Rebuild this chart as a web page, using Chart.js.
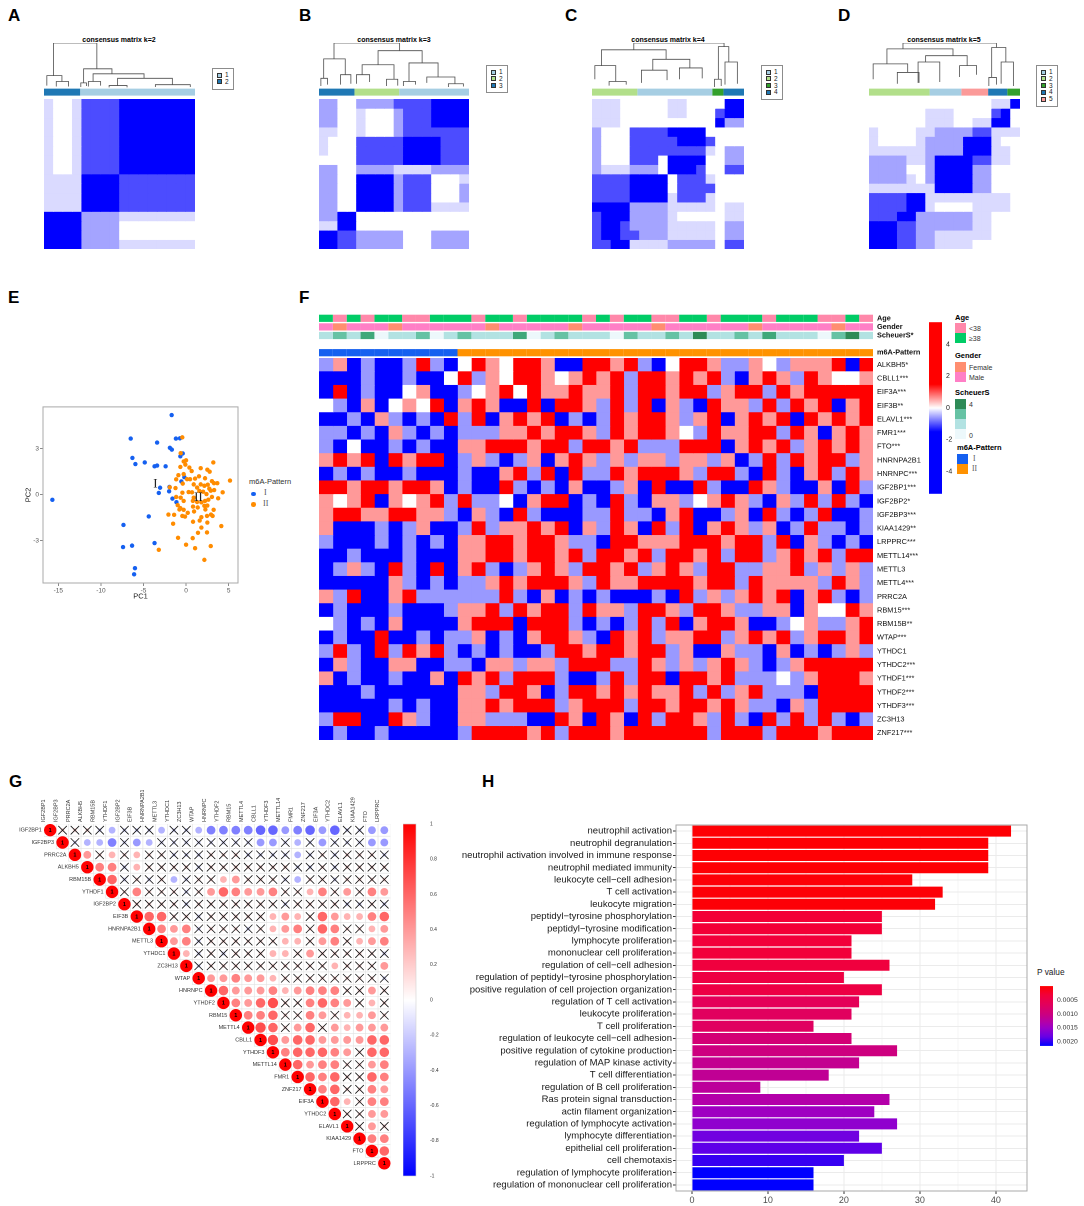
<!DOCTYPE html>
<html lang="en">
<head>
<meta charset="UTF-8">
<title>m6A pattern figure</title>
<script src="https://cdn.jsdelivr.net/npm/chart.js@4.4.1/dist/chart.umd.min.js"></script>
<style>
    body { margin: 0; background: #fff; }
    #page {
        position: relative;
        width: 1084px;
        height: 1206px;
        overflow: hidden;
        background: #fff;
        font-family: "Liberation Sans", Arial, sans-serif;
        color: #000;
    }
    .t { position: absolute; white-space: nowrap; line-height: 1; }
    .panel { font-weight: bold; font-size: 17px; }
    .ctitle { font-weight: bold; font-size: 7px; transform: translateX(-50%); }
    .box { position: absolute; border: 1px solid #8c8c8c; background: #fff; }
    .sw { position: absolute; box-sizing: border-box; }
    .serif { font-family: "Liberation Serif", "DejaVu Serif", serif; }
</style>
</head>
<body>
<div id="page">
    <!-- panel letters -->
    <div class="t panel" style="left:8px;top:7px">A</div>
    <div class="t panel" style="left:299px;top:7px">B</div>
    <div class="t panel" style="left:565px;top:7px">C</div>
    <div class="t panel" style="left:838px;top:7px">D</div>
    <div class="t panel" style="left:8px;top:289px">E</div>
    <div class="t panel" style="left:299px;top:289px">F</div>
    <div class="t panel" style="left:9px;top:773px">G</div>
    <div class="t panel" style="left:482px;top:773px">H</div>

    <!-- consensus titles -->
    <div class="t ctitle" style="left:119px;top:36px">consensus matrix k=2</div>
    <div class="t ctitle" style="left:394px;top:36px">consensus matrix k=3</div>
    <div class="t ctitle" style="left:668px;top:36px">consensus matrix k=4</div>
    <div class="t ctitle" style="left:944px;top:36px">consensus matrix k=5</div>

    <!-- E legend -->
    <div class="t" style="left:249px;top:478px;font-size:7.5px;color:#333">m6A-Pattern</div>
    <div class="sw" style="left:251px;top:491.5px;width:4.5px;height:4.5px;border-radius:50%;background:#1560F0"></div>
    <div class="t serif" style="left:264px;top:489px;font-size:8px;color:#555">I</div>
    <div class="sw" style="left:251px;top:502px;width:4.5px;height:4.5px;border-radius:50%;background:#FF8C00"></div>
    <div class="t serif" style="left:263px;top:499.5px;font-size:8px;color:#555">II</div>

    <!-- F legend -->
    <div class="t" style="left:955px;top:314px;font-size:7.5px;font-weight:bold">Age</div>
    <div class="sw" style="left:955px;top:323px;width:11px;height:10px;background:#FF88AA"></div>
    <div class="sw" style="left:955px;top:333px;width:11px;height:10px;background:#00CC66"></div>
    <div class="t" style="left:969px;top:325px;font-size:7px;color:#333">&lt;38</div>
    <div class="t" style="left:969px;top:335px;font-size:7px;color:#333">≥38</div>
    <div class="t" style="left:955px;top:352px;font-size:7.5px;font-weight:bold">Gender</div>
    <div class="sw" style="left:955px;top:361.5px;width:11px;height:10px;background:#FF8E70"></div>
    <div class="sw" style="left:955px;top:371.5px;width:11px;height:10px;background:#FF7FC6"></div>
    <div class="t" style="left:969px;top:363.5px;font-size:7px;color:#333">Female</div>
    <div class="t" style="left:969px;top:373.5px;font-size:7px;color:#333">Male</div>
    <div class="t" style="left:955px;top:389px;font-size:7.5px;font-weight:bold">ScheuerS</div>
    <div class="sw" style="left:955px;top:398.5px;width:11px;height:10px;background:#2E8B57"></div>
    <div class="sw" style="left:955px;top:408.5px;width:11px;height:10px;background:#66C2A4"></div>
    <div class="sw" style="left:955px;top:418.5px;width:11px;height:10px;background:#B2E2E2"></div>
    <div class="sw" style="left:955px;top:428.5px;width:11px;height:10px;background:#EDF8FB"></div>
    <div class="t" style="left:969px;top:400.5px;font-size:7px;color:#333">4</div>
    <div class="t" style="left:969px;top:431.5px;font-size:7px;color:#333">0</div>
    <div class="t" style="left:957px;top:444px;font-size:7.5px;font-weight:bold">m6A-Pattern</div>
    <div class="sw" style="left:957px;top:453.5px;width:11px;height:10px;background:#1560F0"></div>
    <div class="sw" style="left:957px;top:463.5px;width:11px;height:10px;background:#FF9200"></div>
    <div class="t serif" style="left:973px;top:455px;font-size:7.5px;color:#555">I</div>
    <div class="t serif" style="left:972px;top:465px;font-size:7.5px;color:#555">II</div>

    <!-- H legend title -->
    <div class="t" style="left:1037px;top:968px;font-size:8.3px;color:#1a1a1a">P value</div>
</div>

<script>
// ---------------- data ----------------

// consensus matrices, 16 x 16 blocks, 0 = white ... 4 = solid blue
const consA = [
    '1001333344444444', '1001333344444444', '1001333344444444', '1001333344444444',
    '1001333344444444', '1001333344444444', '1001333344444444', '1001333344444444',
    '1111444433333333', '1111444433333333', '1111444433333333', '1111444433333333',
    '4444222211111111', '4444222200000000', '4444222200000000', '4444222211111111'
];
const consB = [
    '2200222233334444', '2200100023334444', '2200100023334444', '1100100023333333',
    '1000333334444333', '1000333334444333', '0000333334444333', '2200222211112222',
    '2200444423330001', '2200444423330002', '2200444423330002', '2200444423331111',
    '2244000000000000', '1144000000000000', '4433222220002222', '4433222220002222'
];
const consC = [
    '1110000011000044', '1110000011000344', '1110000000000422', '2000333344440000',
    '2000333334443000', '2000333333331022', '2000333044440022', '2111222044430033',
    '3333444403331000', '3333444403333000', '3333444413331000', '4444222211111011',
    '3444222210000011', '3443222211111022', '3443322211111022', '3344111122222033'
];
const consD = [
    '0000000000000114', '0000001110000340', '0000001110011440', '1000011222233111',
    '1000012222444100', '1111112222444110', '2222112444433110', '2222002444422000',
    '2222102444422000', '1111111444422000', '3333441111111110', '3333441000011110',
    '3334422222211000', '4443322222211000', '4443322111111000', '4443322111100000'
];
// cluster spans along the 16 columns: [from, to, cluster]
const groupsA = [[0, 3.83, 2], [3.83, 16, 1]];
const groupsB = [[0, 3.78, 3], [3.78, 8.55, 2], [8.55, 16, 1]];
const groupsC = [[0, 4.77, 2], [4.77, 12.66, 1], [12.66, 13.83, 3], [13.83, 16, 4]];
const groupsD = [[0, 6.42, 2], [6.42, 9.78, 1], [9.78, 12.62, 5], [12.62, 14.65, 4], [14.65, 16, 3]];
// dendrogram merges: [xLeft, xRight, height, heightLeftChild, heightRightChild]
const dendroA = [
    [1.0, 5.6, 1.0, 0.28, 0.43], [0.3, 1.9, 0.28, 0.06, 0.15], [1.3, 2.6, 0.15, 0.04, 0.04],
    [4.2, 7.2, 0.43, 0.12, 0.32], [3.9, 4.5, 0.12, 0.03, 0.05], [5.2, 10.6, 0.32, 0.15, 0.22],
    [4.7, 6.0, 0.15, 0.04, 0.06], [7.8, 13.6, 0.22, 0.06, 0.08], [11.8, 15.5, 0.08, 0.03, 0.03],
    [6.9, 8.8, 0.06, 0.02, 0.02]
];
const dendroB = [
    [1.6, 8.6, 1.0, 0.65, 0.83], [0.5, 2.8, 0.65, 0.22, 0.3], [0.2, 0.9, 0.22, 0.05, 0.08],
    [2.3, 3.4, 0.3, 0.08, 0.1], [6.3, 11.0, 0.83, 0.52, 0.56], [4.6, 8.0, 0.52, 0.3, 0.2],
    [4.0, 5.4, 0.3, 0.1, 0.14], [7.2, 8.4, 0.2, 0.05, 0.06], [9.6, 12.7, 0.56, 0.15, 0.25],
    [9.0, 10.3, 0.15, 0.05, 0.08], [11.5, 14.5, 0.25, 0.12, 0.1], [13.8, 15.4, 0.1, 0.03, 0.04]
];
const dendroC = [
    [4.4, 13.9, 1.0, 0.85, 0.92], [1.0, 7.8, 0.85, 0.5, 0.64], [0.3, 2.5, 0.5, 0.2, 0.15],
    [1.8, 3.6, 0.15, 0.06, 0.08], [6.4, 10.3, 0.64, 0.4, 0.45], [5.2, 7.9, 0.4, 0.12, 0.18],
    [9.2, 11.6, 0.45, 0.2, 0.22], [13.3, 14.4, 0.92, 0.2, 0.58], [14.0, 15.3, 0.58, 0.08, 0.1],
    [12.9, 13.6, 0.2, 0.03, 0.05]
];
const dendroD = [
    [3.6, 13.5, 1.0, 0.87, 0.9], [1.9, 8.9, 0.87, 0.54, 0.72], [0.44, 4.1, 0.54, 0.2, 0.35],
    [3.0, 5.3, 0.35, 0.1, 0.12], [6.0, 10.4, 0.72, 0.58, 0.5], [5.2, 7.5, 0.58, 0.12, 0.14],
    [9.6, 11.4, 0.5, 0.25, 0.3], [13.0, 14.5, 0.9, 0.24, 0.58], [12.7, 13.5, 0.24, 0.05, 0.08],
    [14.0, 15.3, 0.58, 0.1, 0.05]
];

// PCA scores (PC1, PC2)
const pcI = [
    [-1.69, 5.2], [-6.5, 3.66], [-3.4, 3.4], [-1.19, 3.66], [-0.72, 3.68], [-1.9, 3.06], [-1.67, 2.94],
    [-0.39, 2.69], [-0.67, 2.5], [-6.3, 2.4], [-5.95, 2.0], [-4.85, 2.1], [-3.7, 1.85], [-3.4, 1.9],
    [-2.4, 1.85], [-0.2, 1.14], [-0.55, 0.86], [-3.05, 0.45], [-1.95, 0.5], [-1.99, 0.22], [-3.2, 0.11],
    [-1.6, -0.26], [-1.13, -0.49], [-15.7, -0.34], [-4.38, -1.42], [-7.35, -1.98], [-3.7, -3.16],
    [-7.4, -3.42], [-6.34, -3.33], [-6.0, -4.8], [-6.1, -5.2]
];
const pcII = [
    [-0.44, 3.74], [-0.63, 2.71], [-0.28, 2.17], [0, 2.24], [-0.08, 1.96], [0.39, 1.77], [-0.67, 1.81],
    [0.66, 1.54], [1.72, 1.73], [2.5, 1.63], [2.77, 1.5], [3.2, 2.1], [-0.28, 1.34], [-0.9, 1.27],
    [0.12, 1.01], [0.47, 1.01], [1.06, 1.05], [1.52, 1.2], [2.23, 1.07], [3.04, 0.88], [3.67, 0.75],
    [3.28, 0.75], [5.16, 0.92], [-1.16, 1.0], [-0.39, 0.72], [-1.91, 0.48], [-1.24, 0.43], [0.9, 0.67],
    [1.3, 0.46], [1.72, 0.67], [2.15, 0.58], [2.55, 0.65], [2.73, 0.39], [2.9, 0.26], [3.3, 0.3],
    [4.3, 0.15], [-0.43, 0.13], [0.3, 0.17], [0.7, 0.15], [1.56, 0.24], [2.0, 0.19], [2.4, 0.04],
    [3.04, -0.15], [3.77, -0.24], [-1.16, -0.15], [-0.63, -0.2], [-0.28, -0.41], [0.8, -0.41],
    [1.3, -0.48], [1.8, -0.5], [2.23, -0.41], [2.62, -0.33], [-0.98, -0.69], [-0.67, -0.88],
    [-0.78, -0.97], [-0.28, -0.99], [0.82, -0.78], [1.37, -0.84], [2.15, -0.73], [2.5, -0.71],
    [2.27, -0.97], [3.24, -0.99], [0.2, -1.19], [0.94, -1.1], [2.93, -1.3], [3.12, -1.39],
    [-2.07, -1.3], [-1.4, -1.32], [-0.44, -1.39], [-0.12, -1.43], [1.8, -1.47], [2.46, -1.39],
    [-1.52, -1.9], [0.82, -1.77], [1.6, -1.69], [2.5, -1.82], [4.14, -2.05], [1.8, -2.15],
    [2.46, -2.47], [1.4, -2.49], [-0.94, -2.82], [0.78, -2.84], [0, -3.27], [2.9, -3.36],
    [1.06, -3.5], [-3.2, -3.6], [2.15, -4.26], [0.9, -0.2]
];
const pcNotes = [['I', -3.6, 0.7], ['II', 1.45, -0.2]];

// expression heatmap: 28 genes x 40 sample blocks (10 pattern I, 30 pattern II)
const heatGenes = ['ALKBH5*', 'CBLL1***', 'EIF3A***', 'EIF3B**', 'ELAVL1***', 'FMR1***', 'FTO***',
    'HNRNPA2B1', 'HNRNPC***', 'IGF2BP1***', 'IGF2BP2*', 'IGF2BP3***', 'KIAA1429**', 'LRPPRC***',
    'METTL14***', 'METTL3', 'METTL4***', 'PRRC2A', 'RBM15***', 'RBM15B**', 'WTAP***', 'YTHDC1',
    'YTHDC2***', 'YTHDF1***', 'YTHDF2***', 'YTHDF3***', 'ZC3H13', 'ZNF217***'];
// B strong low, b low, 0 mid, r high, R strong high
const heatRows = [
    'brBbBBbRbB' + '0Rr0RRrBBRRrRbB0RRrbbr0brrrRBR',
    'BBBbBBbBB0' + 'Rbr0RRr0rRrRbRRrRrRbBrRrbRr00r',
    'BRBbBB0rBB' + 'b0rR0RrrRrrRbRRrRRbrRRbRrRRRRR',
    '0bBrB0r0RB' + 'rRrBBRBRRrbRbRBrbBRrrbRbRrRBrR',
    'BBbBrbBbBR' + 'bRBrRrRBbBbRrRRrbrRBrRrRBRrRrR',
    'bbBbBrbBbB' + 'bbbrrRrRRrbRrRRr0bRrrRRbRrBrRr',
    'bB0BBbBbBB' + 'rrRRRrRRbRRrRbbbRRRBrRrRbrRrRr',
    'rRrRBRrRRB' + 'brbBbrBrRrbrbrrbrrbrBbRbRrRRbr',
    'BbBbBBbBBB' + 'bBBrRbRBRbbRrRRRrbRRbBRbBrRbRr',
    'RRrRRrRRrB' + 'bBBRbBbBrBBbrBRBBRbBBRrbBBrBRb',
    'r0rRBr0rRb' + 'Rbb0BrRRBbBRbBrrb0rRrbBrbRbRbB',
    'rRRrrRRrrb' + 'BrbBRbBBBbbRbbBrRBBbrBRbBbRBBb',
    'rBBBbBbrBB' + 'bRbrrRrRBrbRrBRbRBrRrbrBbRbbBb',
    'bBBBbBbBbB' + 'rrRRrRRrbbBRRrrrRRRrRRbRBrbBbB',
    'BBbBBBbBBB' + 'rrRRrRRrRbRRrRbRRrRbRRbrRrRbRR',
    'BbrbBRbBRB' + 'rRbBbrRrbRRrRbrRrbRRbbrrRbrbrb',
    'BBBBBrbBbB' + 'bbrRrRRRrbRrrRRRRrRRbRrrrrbRrb',
    'rbRBBrRbbb' + 'bbbRbBrBbBbBBBbBRbrbrRrRBrRbBb',
    'BbBBBbBBBb' + 'rrRbRrRRbRrrbRRrbRRrbbrrBr00Rr',
    '0bBbBrBBBB' + 'rRRRBRRRbBbBbRbRBrRRrBBb0rbbrR',
    'BbBBRBBbBb' + 'brBbBrRRrbBRrRbrrRRbrRrRbrRRrR',
    'bRbBRbRrRb' + 'BbBbBBbRRrRRrRRbrBBrbbBrBbBbrb',
    'BrbBBrrBBb' + 'bBrrbrrbRRRbbRrbrbrRrbBbrRRRRR',
    'rBbBBbBBrB' + 'RrRbRRRbBBbRbRRBRRrRbbb0brRRRr',
    'BBBbBBBBBB' + 'rrbRRrBbRRrRrRrrRbRbrRbbbBRRRR',
    'BBBBBbBbBB' + 'rrRrRRRbrRRRbRRrRRrRrbbBrbRRRR',
    'bRRBBRrbBB' + 'rrbbbBBRrBRrBRbRRrbRbBRbRbRbBb',
    'BbBBbBBBBB' + 'bRRRRrRbRRRrRRRRRRbRRRbRRRrRRR'
];
const heatLevel = { B: -2.5, b: -0.6, '0': 0, r: 0.6, R: 2.5 };
const annoRows = ['Age', 'Gender', 'ScheuerS*', '', 'm6A-Pattern'];
const ageGroup = 'gpgpggppgg' + 'gpggpggggp' + 'gpggppggpg' + 'ggpgggppgp';   // g >=38, p <38
const genderGroup = 'mfmmmfmmmm' + 'mmfmmmmmfm' + 'mmmmfmmmmm' + 'mfmmmmmfmm';
const scheuerScore = '1213011201' + '2111301211' + '1021121411' + '2131110241';
const patternGroup = 'IIIIIIIIII' + '222222222222222222222222222222'; // I = pattern I, 2 = pattern II

// correlation matrix (upper triangle, row i holds columns i+1 ...)
// digit = +0.d, a..i = -0.1..-0.9, x / y = non-significant (+/-)
const corrGenes = ['IGF2BP1', 'IGF2BP3', 'PRRC2A', 'ALKBH5', 'RBM15B', 'YTHDF1', 'IGF2BP2', 'EIF3B',
    'HNRNPA2B1', 'METTL3', 'YTHDC1', 'ZC3H13', 'WTAP', 'HNRNPC', 'YTHDF2', 'RBM15', 'METTL4', 'CBLL1',
    'YTHDF3', 'METTL14', 'FMR1', 'ZNF217', 'EIF3A', 'YTHDC2', 'ELAVL1', 'KIAA1429', 'FTO', 'LRPPRC'];
const corrRows = [
    'xxxycyyycyyceeeeffdefdfyydd', 'ycceydcyyyyyyyyddycydyyydd', '4x3x3xxyyyxxxyyyycyxyxxxy',
    '55y3xxxxyxxxxxxxyyxyxxxx', '6yxyxcyxx34xxxycxxyxxxx', 'x5xxxyx465445xx35x4x54',
    'xxxxyxxxxxxxyxxxxyyxy', '66xxyxxxxx343x643356', '545yxxxyx345x65xx34',
    '45yxxxxxx33x45x345', '3yxyxxx33x4xxxxxy', 'yxxxxxxxxxx3xxx4', '445443xxxxxxxxy',
    '6444534555xx4x', '5467xx5654x3x', '556xx54x334x', '76x46x43444', '7466444466',
    '566654x66', '6455xx45', '656xx65', '56xx54', '63x55', 'xx44', 'x4x', '55', '6', ''
];

// GO enrichment
const goTerms = ['neutrophil activation', 'neutrophil degranulation',
    'neutrophil activation involved in immune response', 'neutrophil mediated immunity',
    'leukocyte cell\u2212cell adhesion', 'T cell activation', 'leukocyte migration',
    'peptidyl\u2212tyrosine phosphorylation', 'peptidyl\u2212tyrosine modification',
    'lymphocyte proliferation', 'mononuclear cell proliferation', 'regulation of cell\u2212cell adhesion',
    'regulation of peptidyl\u2212tyrosine phosphorylation',
    'positive regulation of cell projection organization', 'regulation of T cell activation',
    'leukocyte proliferation', 'T cell proliferation', 'regulation of leukocyte cell\u2212cell adhesion',
    'positive regulation of cytokine production', 'regulation of MAP kinase activity',
    'T cell differentiation', 'regulation of B cell proliferation', 'Ras protein signal transduction',
    'actin filament organization', 'regulation of lymphocyte activation', 'lymphocyte differentiation',
    'epithelial cell proliferation', 'cell chemotaxis', 'regulation of lymphocyte proliferation',
    'regulation of mononuclear cell proliferation'];
const goCounts = [42, 39, 39, 39, 29, 33, 32, 25, 25, 21, 21, 26, 20, 25, 22, 21, 16, 21, 27, 22,
    18, 9, 26, 24, 27, 22, 25, 20, 16, 16];
const goPvalues = [0.00002, 0.00002, 0.00002, 0.00002, 0.00004, 0.00004, 0.00004, 0.0003, 0.0003,
    0.00032, 0.00032, 0.00036, 0.0004, 0.00042, 0.00062, 0.00068, 0.0007, 0.0009, 0.001, 0.00112,
    0.00115, 0.0012, 0.0013, 0.00146, 0.00157, 0.00176, 0.00185, 0.00198, 0.00215, 0.00215];
const pTicks = [0.0005, 0.001, 0.0015, 0.002];

// ---------------- colours ----------------
const FF = '"Liberation Sans", Arial, sans-serif';
const consCol = { '0': '#FFFFFF', '1': '#DADAFF', '2': '#A4A4FF', '3': '#4C4CFF', '4': '#0000FF' };
const palettes = {
    2: ['#A6CEE3', '#1F78B4'],
    3: ['#A6CEE3', '#B2DF8A', '#1F78B4'],
    4: ['#A6CEE3', '#B2DF8A', '#33A02C', '#1F78B4'],
    5: ['#A6CEE3', '#B2DF8A', '#33A02C', '#1F78B4', '#FB9A99']
};
const ageCol = { g: '#00CC66', p: '#FF88AA' };
const genderCol = { f: '#FF8E70', m: '#FF7FC6' };
const scheuerCol = ['#EDF8FB', '#B2E2E2', '#66C2A4', '#3FA87A', '#2E8B57'];
const patternCol = { I: '#1560F0', '2': '#FF9200' };
const pStops = [[0, '#FF0000'], [0.15, '#F2003A'], [0.3, '#E3005A'], [0.47, '#CC0080'],
    [0.6, '#B400A8'], [0.7, '#9A00C8'], [0.85, '#6600E6'], [1, '#0000FF']];
const pMax = 0.00215;

function hexRgb(h) {
    return [parseInt(h.slice(1, 3), 16), parseInt(h.slice(3, 5), 16), parseInt(h.slice(5, 7), 16)];
}
function rampColor(stops, t) {
    t = Math.max(0, Math.min(1, t));
    for (let i = 1; i < stops.length; i++) {
        if (t <= stops[i][0]) {
            const a = stops[i - 1], b = stops[i];
            const f = (t - a[0]) / (b[0] - a[0] || 1);
            const ca = hexRgb(a[1]), cb = hexRgb(b[1]);
            const c = ca.map((v, k) => Math.round(v + (cb[k] - v) * f));
            return `rgb(${c[0]},${c[1]},${c[2]})`;
        }
    }
    return stops[stops.length - 1][1];
}
function heatColor(v) {
    const t = Math.min(1, Math.abs(v) / 1.5);
    const k = Math.round(255 * (1 - t));
    return v >= 0 ? `rgb(255,${k},${k})` : `rgb(${k},${k},255)`;
}
function corrValue(ch) {
    if (ch === 'x') return 0.12;
    if (ch === 'y') return -0.12;
    if (ch >= '0' && ch <= '9') return Number(ch) / 10;
    return -(ch.charCodeAt(0) - 96) / 10;
}
function corrColor(v) {
    const k = Math.round(255 * (1 - Math.min(1, Math.abs(v))));
    return v >= 0 ? `rgb(255,${k},${k})` : `rgb(${k},${k},255)`;
}

// ---------------- plugins ----------------
const framePlugin = {
    id: 'frame',
    afterDatasetsDraw(chart, args, opts) {
        if (!opts || !opts.color) return;
        const { ctx, chartArea: a } = chart;
        ctx.save();
        ctx.strokeStyle = opts.color;
        ctx.lineWidth = opts.width || 1;
        ctx.strokeRect(a.left, a.top, a.right - a.left, a.bottom - a.top);
        ctx.restore();
    }
};
const gradBar = {
    id: 'gradBar',
    beforeDatasetsDraw(chart, args, opts) {
        if (!opts || !opts.stops) return;
        const { ctx, chartArea: a } = chart;
        const g = ctx.createLinearGradient(0, a.top, 0, a.bottom);
        opts.stops.forEach(s => g.addColorStop(s[0], s[1]));
        ctx.save();
        ctx.fillStyle = g;
        ctx.fillRect(a.left, a.top, a.right - a.left, a.bottom - a.top);
        ctx.restore();
    }
};
Chart.register(framePlugin, gradBar);

Chart.defaults.font.family = FF;
Chart.defaults.animation = false;
Chart.defaults.responsive = false;
Chart.defaults.maintainAspectRatio = false;
Chart.defaults.devicePixelRatio = 2;
Chart.defaults.plugins.legend.display = false;
Chart.defaults.plugins.tooltip.enabled = false;

const noGrid = { display: false, drawTicks: false, tickLength: 0 };

const page = document.getElementById('page');
function mk(left, top, w, h) {
    const c = document.createElement('canvas');
    c.width = w;
    c.height = h;
    c.style.cssText = `position:absolute;left:${left}px;top:${top}px;width:${w}px;height:${h}px`;
    page.appendChild(c);
    return c;
}

// ---------------- A-D consensus matrices ----------------
function consensusPanel(left, width, rows, groups, dendro, k) {
    const pal = palettes[k];
    // dendrogram + cluster bar
    const ds = dendro.map(m => ({
        data: [{ x: m[0], y: m[3] }, { x: m[0], y: m[2] }, { x: m[1], y: m[2] }, { x: m[1], y: m[4] }],
        showLine: true, borderColor: '#4d4d4d', borderWidth: 0.8, pointRadius: 0,
        borderJoinStyle: 'miter'
    }));
    groups.forEach(g => ds.push({
        data: [{ x: g[0], y: -0.085 }, { x: g[1], y: -0.085 }],
        showLine: true, borderColor: pal[g[2] - 1], borderWidth: 7, borderCapStyle: 'butt', pointRadius: 0
    }));
    new Chart(mk(left, 43, width, 53), {
        type: 'scatter',
        data: { datasets: ds },
        options: {
            layout: { padding: 0 },
            scales: {
                x: { display: false, min: 0, max: rows[0].length },
                y: { display: false, min: -0.17, max: 1 }
            }
        }
    });
    // matrix
    new Chart(mk(left, 99, width, 150), {
        type: 'bar',
        data: {
            labels: rows[0].split('').map((_, i) => i + 1),
            datasets: rows.map(r => ({
                data: r.split('').map(() => 1),
                backgroundColor: r.split('').map(c => consCol[c]),
                borderWidth: 0, barPercentage: 1, categoryPercentage: 1
            }))
        },
        options: {
            layout: { padding: 0 },
            scales: {
                x: { display: false, stacked: true },
                y: { display: false, stacked: true, reverse: true, min: 0, max: rows.length }
            }
        }
    });
    return pal;
}
function consensusLegend(left, top, pal) {
    const box = document.createElement('div');
    box.className = 'box';
    const h = 6 + pal.length * 6.8;
    box.style.cssText = `left:${left}px;top:${top}px;width:20px;height:${h}px`;
    pal.forEach((c, i) => {
        const sw = document.createElement('div');
        sw.className = 'sw';
        sw.style.cssText = `left:4px;top:${3.5 + i * 6.8}px;width:5px;height:5px;background:${c};border:0.7px solid #333`;
        box.appendChild(sw);
        const tx = document.createElement('div');
        tx.className = 't';
        tx.style.cssText = `left:12px;top:${3 + i * 6.8}px;font-size:6.5px;color:#222`;
        tx.textContent = String(i + 1);
        box.appendChild(tx);
    });
    page.appendChild(box);
}
consensusLegend(212, 68, consensusPanel(44, 151, consA, groupsA, dendroA, 2));
consensusLegend(486, 65, consensusPanel(319, 150, consB, groupsB, dendroB, 3));
consensusLegend(761, 65, consensusPanel(592, 152, consC, groupsC, dendroC, 4));
consensusLegend(1036, 65, consensusPanel(869, 151, consD, groupsD, dendroD, 5));

// ---------------- E PCA ----------------
const pcLabels = {
    id: 'pcLabels',
    afterDatasetsDraw(chart) {
        const { ctx, scales: { x, y } } = chart;
        ctx.save();
        ctx.font = '13px "Liberation Serif", serif';
        ctx.fillStyle = '#222';
        ctx.textAlign = 'center';
        ctx.textBaseline = 'middle';
        pcNotes.forEach(n => ctx.fillText(n[0], x.getPixelForValue(n[1]), y.getPixelForValue(n[2])));
        ctx.restore();
    }
};
new Chart(mk(24, 402, 218, 199), {
    type: 'scatter',
    data: {
        datasets: [
            // first dataset is painted last, so pattern II sits on top as in the original
            { label: 'II', data: pcII.map(p => ({ x: p[0], y: p[1] })), backgroundColor: '#FF8C00', pointRadius: 2.2, pointBorderWidth: 0 },
            { label: 'I', data: pcI.map(p => ({ x: p[0], y: p[1] })), backgroundColor: '#1560F0', pointRadius: 2.2, pointBorderWidth: 0 }
        ]
    },
    plugins: [pcLabels],
    options: {
        layout: { padding: { top: 3, right: 4, left: 0, bottom: 0 } },
        plugins: { frame: { color: '#A8A8A8', width: 1 } },
        scales: {
            x: {
                min: -16.8, max: 6.1,
                afterBuildTicks: s => { s.ticks = [-15, -10, -5, 0, 5].map(v => ({ value: v })); },
                grid: { drawOnChartArea: false, tickLength: 3, color: '#8a8a8a' },
                border: { display: false },
                ticks: { font: { size: 6.5 }, color: '#555', padding: 1, maxRotation: 0 },
                title: { display: true, text: 'PC1', font: { size: 7.5 }, color: '#222', padding: 0 },
                afterFit: s => { s.height = 18; }
            },
            y: {
                min: -5.77, max: 5.73,
                afterBuildTicks: s => { s.ticks = [-3, 0, 3].map(v => ({ value: v })); },
                grid: { drawOnChartArea: false, tickLength: 3, color: '#8a8a8a' },
                border: { display: false },
                ticks: { font: { size: 6.5 }, color: '#555', padding: 1 },
                title: { display: true, text: 'PC2', font: { size: 7.5 }, color: '#222', padding: 0 },
                afterFit: s => { s.width = 19; }
            }
        }
    }
});

// ---------------- F heatmap ----------------
// label axes reserve half a label plus tick padding above/below; padding 9 keeps the plot box fixed
const nCols = heatRows[0].length;
new Chart(mk(319, 305, 612, 61), {
    type: 'bar',
    data: {
        labels: annoRows,
        datasets: Array.from({ length: nCols }, (_, c) => ({
            data: [1, 1, 1, null, 1],
            backgroundColor: [ageCol[ageGroup[c]], genderCol[genderGroup[c]],
                scheuerCol[Number(scheuerScore[c])], 'rgba(0,0,0,0)', patternCol[patternGroup[c]]],
            borderWidth: 0, barPercentage: 1, categoryPercentage: 0.84
        }))
    },
    options: {
        indexAxis: 'y',
        layout: { padding: { top: 9, bottom: 9 } },
        scales: {
            x: { display: false, stacked: true, min: 0, max: nCols },
            y: {
                stacked: true, position: 'right',
                grid: noGrid, border: { display: false },
                ticks: { font: { size: 7.3, weight: 'bold' }, color: '#111', padding: 4, autoSkip: false },
                afterFit: s => { s.width = 58; }
            }
        }
    }
});
new Chart(mk(319, 349, 608, 400), {
    type: 'bar',
    data: {
        labels: heatGenes,
        datasets: Array.from({ length: nCols }, (_, c) => ({
            data: heatGenes.map(() => 1),
            backgroundColor: heatRows.map(r => heatColor(heatLevel[r[c]])),
            borderWidth: 0, barPercentage: 1, categoryPercentage: 1
        }))
    },
    options: {
        indexAxis: 'y',
        layout: { padding: { top: 9, bottom: 9 } },
        scales: {
            x: { display: false, stacked: true, min: 0, max: nCols },
            y: {
                stacked: true, position: 'right',
                grid: noGrid, border: { display: false },
                ticks: { font: { size: 7.4 }, color: '#111', padding: 4, autoSkip: false },
                afterFit: s => { s.width = 54; }
            }
        }
    }
});
// colour key
const heatMin = -5.4, heatMax = 5.4;
const heatStops = [[heatMax, '#FF0000'], [1.5, '#FF0000'], [0, '#FFFFFF'], [-1.5, '#0000FF'], [heatMin, '#0000FF']]
    .map(s => [(heatMax - s[0]) / (heatMax - heatMin), s[1]]);
new Chart(mk(929, 314, 32, 188), {
    type: 'scatter',
    data: { datasets: [] },
    options: {
        layout: { padding: { top: 2, bottom: 2 } },
        plugins: { gradBar: { stops: heatStops } },
        scales: {
            x: { display: false, min: 0, max: 1 },
            y: {
                position: 'right', min: heatMin, max: heatMax,
                afterBuildTicks: s => { s.ticks = [-4, -2, 0, 2, 4].map(v => ({ value: v })); },
                grid: noGrid, border: { display: false },
                ticks: { font: { size: 7 }, color: '#222', padding: 4 },
                afterFit: s => { s.width = 19; }
            }
        }
    }
});

// ---------------- G correlation ----------------
const cells = [], circles = [], circR = [], circC = [], crosses = [];
corrRows.forEach((s, i) => {
    cells.push({ x: i, y: i });
    circles.push({ x: i, y: i });
    circR.push(6.2);
    circC.push(corrColor(1));
    s.split('').forEach((ch, k) => {
        const j = i + 1 + k;
        const v = corrValue(ch);
        cells.push({ x: j, y: i });
        circles.push({ x: j, y: i });
        circR.push(6.2 * Math.sqrt(Math.abs(v)));
        circC.push(corrColor(v));
        if (ch === 'x' || ch === 'y') crosses.push({ x: j, y: i });
    });
});
const corrLabels = {
    id: 'corrLabels',
    afterDatasetsDraw(chart) {
        const { ctx, scales: { x, y } } = chart;
        ctx.save();
        ctx.font = '5.5px ' + FF;
        ctx.fillStyle = '#333';
        ctx.textAlign = 'right';
        ctx.textBaseline = 'middle';
        corrGenes.forEach((g, i) => ctx.fillText(g, x.getPixelForValue(i) - 8.5, y.getPixelForValue(i)));
        ctx.font = 'bold 5.5px ' + FF;
        ctx.fillStyle = '#000';
        ctx.textAlign = 'center';
        corrGenes.forEach((g, i) => ctx.fillText('1', x.getPixelForValue(i), y.getPixelForValue(i) + 0.3));
        ctx.restore();
    }
};
const nG = corrGenes.length;
new Chart(mk(0, 790, 400, 389), {
    type: 'scatter',
    data: {
        // painted last-to-first: cell frames, then circles, then the crosses on top
        datasets: [
            { data: crosses, pointStyle: 'crossRot', pointRadius: 6, borderColor: '#111', borderWidth: 0.8, backgroundColor: '#111' },
            { data: circles, pointRadius: circR, pointBackgroundColor: circC, backgroundColor: circC, pointBorderWidth: 0, borderWidth: 0 },
            { data: cells, pointStyle: 'rect', pointRadius: 8.9, backgroundColor: '#FFFFFF', borderColor: '#E2E2E2', borderWidth: 0.6 }
        ]
    },
    plugins: [corrLabels],
    options: {
        layout: { padding: { left: 44, right: 3, top: 0, bottom: 2 } },
        scales: {
            x: {
                position: 'top', min: -0.5, max: nG - 0.5,
                afterBuildTicks: s => { s.ticks = corrGenes.map((_, i) => ({ value: i })); },
                grid: noGrid, border: { display: false },
                ticks: {
                    callback: v => corrGenes[v], font: { size: 5.5 }, color: '#333',
                    minRotation: 90, maxRotation: 90, autoSkip: false, padding: 2
                },
                afterFit: s => { s.height = 34; }
            },
            y: { display: false, min: -0.5, max: nG - 0.5, reverse: true }
        }
    }
});
new Chart(mk(403, 806, 48, 388), {
    type: 'scatter',
    data: { datasets: [] },
    options: {
        layout: { padding: { top: 18, bottom: 18 } },
        plugins: {
            gradBar: { stops: [[0, '#FF0000'], [0.5, '#FFFFFF'], [1, '#0000FF']] },
            frame: { color: '#D0D0D0', width: 0.6 }
        },
        scales: {
            x: { display: false, min: 0, max: 1 },
            y: {
                position: 'right', min: -1, max: 1,
                afterBuildTicks: s => { s.ticks = [-1, -0.8, -0.6, -0.4, -0.2, 0, 0.2, 0.4, 0.6, 0.8, 1].map(v => ({ value: v })); },
                grid: noGrid, border: { display: false },
                ticks: { font: { size: 5 }, color: '#333', padding: 14, callback: v => String(Math.round(v * 10) / 10) },
                afterFit: s => { s.width = 35; }
            }
        }
    }
});

// ---------------- H GO enrichment ----------------
new Chart(mk(440, 818, 589, 387), {
    type: 'bar',
    data: {
        labels: goTerms,
        datasets: [{
            data: goCounts,
            backgroundColor: goPvalues.map(p => rampColor(pStops, p / pMax)),
            borderWidth: 0, categoryPercentage: 0.9, barPercentage: 1
        }]
    },
    options: {
        indexAxis: 'y',
        layout: { padding: { top: 7, right: 2 } },
        plugins: { frame: { color: '#A8A8A8', width: 1 } },
        scales: {
            x: {
                min: -2.1, max: 44.1,
                afterBuildTicks: s => { s.ticks = [0, 5, 10, 15, 20, 25, 30, 35, 40].map(v => ({ value: v })); },
                ticks: { callback: v => (v % 10 === 0 ? String(v) : ''), font: { size: 9 }, color: '#4D4D4D', padding: 1, maxRotation: 0 },
                grid: {
                    color: '#EBEBEB',
                    lineWidth: c => (c.tick && c.tick.value % 10 === 0 ? 1 : 0.5),
                    tickLength: 3,
                    tickColor: c => (c.tick && c.tick.value % 10 === 0 ? '#333' : 'rgba(0,0,0,0)')
                },
                border: { display: false },
                afterFit: s => { s.height = 14; }
            },
            y: {
                grid: { color: '#EBEBEB', lineWidth: 1, offset: false, tickLength: 3, tickColor: '#333' },
                border: { display: false },
                ticks: { font: { size: 9.5 }, color: '#1A1A1A', padding: 1, autoSkip: false },
                afterFit: s => { s.width = 236; }
            }
        }
    }
});
// P value colour bar
new Chart(mk(1040, 978, 44, 76), {
    type: 'scatter',
    data: { datasets: [] },
    options: {
        layout: { padding: { top: 3, bottom: 5 } },
        plugins: { gradBar: { stops: pStops } },
        scales: {
            x: { display: false, min: 0, max: 1 },
            y: {
                position: 'right', min: 0, max: pMax, reverse: true,
                afterBuildTicks: s => { s.ticks = pTicks.map(v => ({ value: v })); },
                grid: noGrid, border: { display: false },
                ticks: { font: { size: 6.8 }, color: '#333', padding: 4, callback: v => v.toFixed(4) },
                afterFit: s => { s.width = 31; }
            }
        }
    }
});
</script>
</body>
</html>
